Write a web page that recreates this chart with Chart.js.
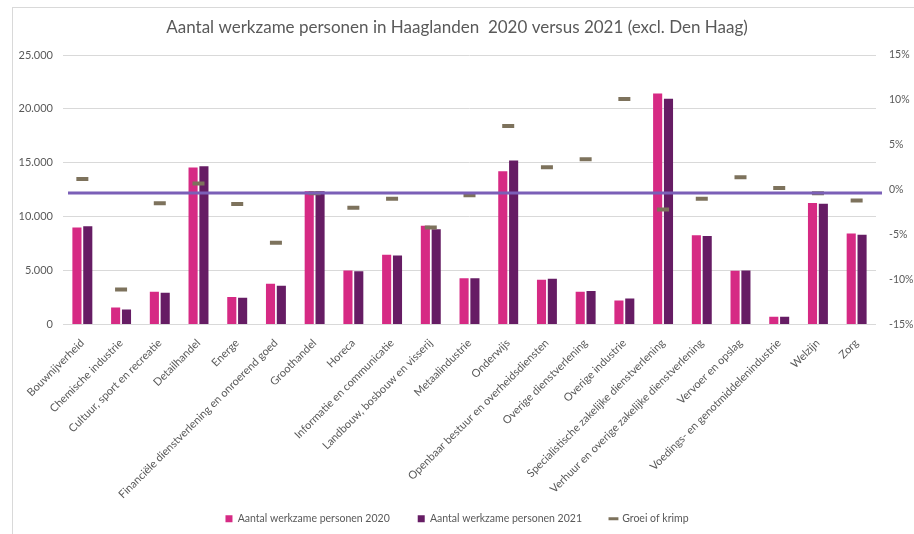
<!DOCTYPE html>
<html>
<head>
<meta charset="utf-8">
<script src="https://cdn.jsdelivr.net/npm/chart.js@4.4.1/dist/chart.umd.min.js"></script>
<style>
  body { margin: 0; background: #fff; }
  #frame { position: absolute; left: 12px; top: 7px; width: 910px; height: 540px;
           border-top: 1px solid #d9d9d9; border-left: 1px solid #d9d9d9; }
  #wrap { position: absolute; left: 0; top: 0; width: 914px; height: 534px; }
</style>
</head>
<body>
<div id="frame"></div>
<div id="wrap"><canvas id="chart" width="914" height="534"></canvas></div>
<script>
// sectoren
const categories = [
    'Bouwnijverheid', 'Chemische industrie', 'Cultuur, sport en recreatie', 'Detailhandel',
    'Energe', 'Financiële dienstverlening en onroerend goed', 'Groothandel', 'Horeca',
    'Informatie en communicatie', 'Landbouw, bosbouw en visserij', 'Metaalindustrie',
    'Onderwijs', 'Openbaar bestuur en overheidsdiensten', 'Overige dienstverlening',
    'Overige industrie', 'Specialistische zakelijke dienstverlening',
    'Verhuur en overige zakelijke dienstverlening', 'Vervoer en opslag',
    'Voedings- en genotmiddelenindustrie', 'Welzijn', 'Zorg'
];

const personen2020 = [9000, 1580, 3040, 14560, 2540, 3780, 12360, 5020, 6480, 9170, 4280,
    14220, 4150, 3040, 2230, 21440, 8270, 4990, 710, 11280, 8430];
const personen2021 = [9110, 1400, 2950, 14680, 2480, 3600, 12360, 4930, 6410, 8830, 4280,
    15210, 4250, 3100, 2420, 20940, 8210, 5020, 710, 11210, 8330];
// groei of krimp in procenten
const groei = [1.2, -11.1, -1.5, 0.7, -1.6, -5.9, -0.4, -2.0, -1.0, -4.2, -0.6,
    7.1, 2.5, 3.4, 10.1, -2.2, -1.0, 1.4, 0.2, -0.4, -1.2];

const leftTicks = [0, 5000, 10000, 15000, 20000, 25000];
const rightTicks = [-15, -10, -5, 0, 5, 10, 15];
const lijnWaarde = -0.35; // paarse horizontale lijn (rechter as)

const grey = '#595959';
const fontFam = 'Lato, "Open Sans", sans-serif';

// horizontal purple line across the plot
const lijnPlugin = {
    id: 'lijn',
    afterDatasetsDraw(chart) {
        const { ctx, chartArea, scales } = chart;
        const y = scales.y1.getPixelForValue(lijnWaarde);
        ctx.save();
        ctx.strokeStyle = '#7b5fb7';
        ctx.lineWidth = 3;
        ctx.beginPath();
        ctx.moveTo(chartArea.left + 5, y);
        ctx.lineTo(chartArea.right + 6, y);
        ctx.stroke();
        ctx.restore();
    }
};

new Chart(document.getElementById('chart').getContext('2d'), {
    type: 'bar',
    data: {
        labels: categories,
        datasets: [
            {
                type: 'line',
                label: 'Groei of krimp',
                data: groei,
                yAxisID: 'y1',
                showLine: false,
                pointStyle: 'line',
                pointRadius: 6,
                pointBorderWidth: 4,
                borderColor: '#7d725c',
                backgroundColor: '#7d725c',
                order: 0,
            },
            {
                label: 'Aantal werkzame personen 2020',
                data: personen2020,
                backgroundColor: '#d62a84',
                categoryPercentage: 0.56,
                barPercentage: 0.84,
                yAxisID: 'y',
                order: 1,
            },
            {
                label: 'Aantal werkzame personen 2021',
                data: personen2021,
                backgroundColor: '#661c64',
                categoryPercentage: 0.56,
                barPercentage: 0.84,
                yAxisID: 'y',
                order: 1,
            },
        ],
    },
    options: {
        responsive: false,
        animation: false,
        layout: { padding: 0 },
        plugins: {
            title: {
                display: true,
                text: 'Aantal werkzame personen in Haaglanden  2020 versus 2021 (excl. Den Haag)',
                color: grey,
                font: { family: fontFam, size: 17, weight: 'normal' },
                padding: { top: 17, bottom: 17.6 },
            },
            legend: {
                position: 'bottom',
                labels: {
                    color: grey,
                    font: { family: fontFam, size: 10.5 },
                    boxWidth: 7,
                    boxHeight: 7,
                    padding: 28,
                    usePointStyle: true,
                    sort: (a, b) => (a.datasetIndex === 0 ? 1 : 0) - (b.datasetIndex === 0 ? 1 : 0),
                    generateLabels(chart) {
                        const items = Chart.defaults.plugins.legend.labels.generateLabels(chart);
                        items.forEach((it) => {
                            if (it.datasetIndex === 0) {
                                it.pointStyle = 'line';
                                it.strokeStyle = '#7d725c';
                                it.lineWidth = 3;
                            } else {
                                it.pointStyle = 'rect';
                                it.lineWidth = 0;
                            }
                        });
                        return items;
                    },
                },
            },
            tooltip: { enabled: false },
        },
        scales: {
            x: {
                grid: { display: false },
                border: { display: false },
                ticks: {
                    color: grey,
                    font: { family: fontFam, size: 11 },
                    minRotation: 45,
                    maxRotation: 45,
                    autoSkip: false,
                    padding: 4,
                },
                afterFit(scale) {
                    scale.height = 161;
                    // long labels may run into the legend area, don't clip them
                    scale._computeLabelArea = () => undefined;
                },
            },
            y: {
                position: 'left',
                min: 0,
                max: 25000,
                afterBuildTicks(scale) { scale.ticks = leftTicks.map((v) => ({ value: v })); },
                grid: { color: '#d9d9d9', lineWidth: 1, drawTicks: false },
                border: { display: false },
                ticks: {
                    color: grey,
                    font: { family: fontFam, size: 11 },
                    padding: 10,
                    callback: (v) => v.toLocaleString('nl-NL'),
                },
                afterFit(scale) { scale.width = 63; },
            },
            y1: {
                position: 'right',
                min: -15,
                max: 15,
                afterBuildTicks(scale) { scale.ticks = rightTicks.map((v) => ({ value: v })); },
                grid: { display: false },
                border: { display: false },
                ticks: {
                    color: grey,
                    font: { family: fontFam, size: 10.5 },
                    padding: 5,
                    callback: (v) => v + '%',
                },
                afterFit(scale) {
                    scale.width = 38;
                    scale._computeLabelArea = () => undefined;
                },
            },
        },
    },
    plugins: [lijnPlugin],
});
</script>
</body>
</html>
